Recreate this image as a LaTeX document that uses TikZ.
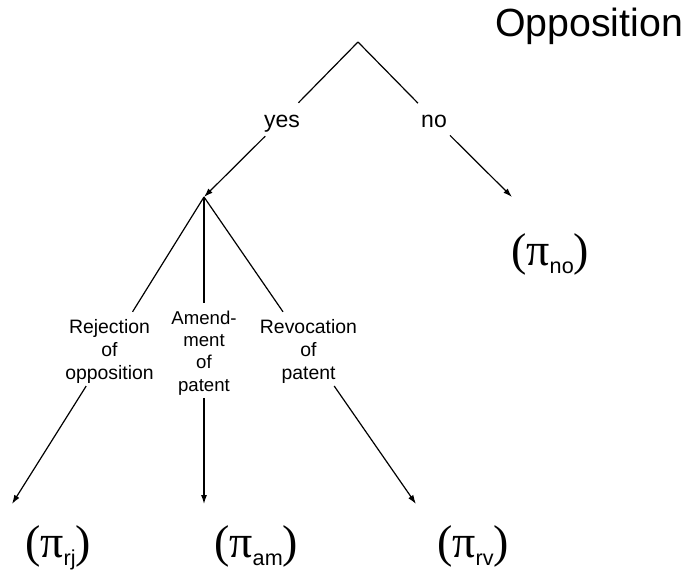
\documentclass[tikz,border=0pt]{standalone}
\usepackage{fontspec}
\setmainfont{Liberation Sans}
\newfontfamily\grkfont{Liberation Serif}
\usetikzlibrary{arrows.meta}
\newcommand{\pilab}[1]{{\grkfont\fontsize{46}{46}\selectfont(π\raisebox{-8pt}{\fontsize{21.6}{22}\rmfamily #1})}}
\begin{document}
\begin{tikzpicture}[x=1pt,y=-1pt,
  conn/.style={line width=1.2pt},
  arr/.style={conn,-{Latex[length=9pt,width=6pt]}},
  choice/.style={font=\fontsize{23}{27}\selectfont, text height=20pt, text depth=5pt, inner ysep=4pt, inner xsep=3pt},
  outcome/.style={align=center, font=\fontsize{19.4}{23.4}\selectfont, inner xsep=2pt, inner ysep=1pt},
  payoff/.style={anchor=base west, inner sep=0pt}]
\useasboundingbox (0,0) rectangle (688,582);
\node[anchor=base, inner sep=0pt, font=\fontsize{39.3}{40}\selectfont] (title) at (589,36) {Opposition};
\coordinate (apex) at (358,42);
\node[choice] (yes) at (282,119.5) {yes};
\node[choice] (no) at (434,119.5) {no};
\coordinate (b) at (204,197);
\coordinate (tipno) at (512,197);
\coordinate (tiprj) at (12,504);
\coordinate (tipam) at (204,504);
\coordinate (tiprv) at (416,504);
\node[outcome] (rj) at (109.5,348.9) {\rule{0pt}{20pt}Rejection\\of\\opposition\rule[-5pt]{0pt}{5pt}};
\node[outcome, font=\fontsize{18.6}{22.4}\selectfont] (am) at (204,350.6) {\rule{0pt}{19.5pt}Amend-\\ment\\of\\patent\rule[-5.5pt]{0pt}{5.5pt}};
\node[outcome] (rv) at (308.5,348.9) {\rule{0pt}{20pt}Revocation\\of\\patent\rule[-5pt]{0pt}{5pt}};
\node[payoff] (pno) at (511,265) {\pilab{no}};
\node[payoff] (prj) at (25,557) {\pilab{rj}};
\node[payoff] (pam) at (214,557) {\pilab{am}};
\node[payoff] (prv) at (437,557) {\pilab{rv}};
\draw[conn] (apex) -- (yes);
\draw[conn] (apex) -- (no);
\draw[arr] (yes) -- (b);
\draw[arr] (no) -- (tipno);
\draw[conn] (b) -- (rj);
\draw[arr] (rj) -- (tiprj);
\draw[conn] (b) -- (am);
\draw[arr] (am) -- (tipam);
\draw[conn] (b) -- (rv);
\draw[arr] (rv) -- (tiprv);
\end{tikzpicture}
\end{document}
